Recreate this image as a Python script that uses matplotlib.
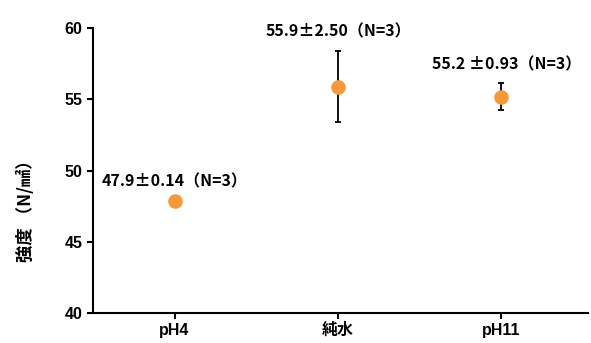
import matplotlib

matplotlib.use("Agg")
import matplotlib.pyplot as plt

plt.rcParams["font.family"] = ["Liberation Sans", "Noto Sans CJK JP", "DejaVu Sans"]
plt.rcParams["font.weight"] = "bold"

categories = ["pH4", "純水", "pH11"]
strength = [47.9, 55.9, 55.2]
std_dev = [0.14, 2.50, 0.93]
n_samples = [3, 3, 3]
labels = ["47.9±0.14（N=3）", "55.9±2.50（N=3）", "55.2 ±0.93（N=3）"]
label_offset = [0.75, 3.3, 1.7]
yticks = [40, 45, 50, 55, 60]

cjk = ["Noto Sans CJK JP", "Liberation Sans"]

fig = plt.figure(figsize=(5.91, 3.43), dpi=100)
ax = fig.add_axes([0.157, 0.087, 0.838, 0.831])

x = list(range(len(categories)))
ax.errorbar(x, strength, yerr=std_dev, fmt="o", color="#F7993A", ms=9.5,
            ecolor="black", elinewidth=1.3, capsize=2.5, capthick=1.3, zorder=3)

for i, (v, s) in enumerate(zip(strength, labels)):
    ax.text(i + (0.03 if i == 2 else 0), v + label_offset[i], s, ha="center", va="bottom",
            fontsize=11.5, fontweight="bold", family=cjk)

ax.set_xlim(-0.5, 2.53)
ax.set_ylim(40, 60)
ax.set_yticks(yticks)
ax.set_xticks(x)
ax.set_xticklabels(categories)
for lab in ax.get_xticklabels():
    lab.set_family(["Liberation Sans", "Noto Sans CJK JP"])
ax.tick_params(axis="both", direction="out", length=4, width=1.5, labelsize=11.5)
ax.tick_params(axis="x", pad=3)
ax.set_ylabel("強度 （N/㎟）", fontsize=12.5, fontweight="bold", family=cjk)
ax.yaxis.set_label_coords(-0.117, 0.375)
ax.spines[["top", "right"]].set_visible(False)
ax.spines[["left", "bottom"]].set_linewidth(1.5)

fig.savefig("out.png")
